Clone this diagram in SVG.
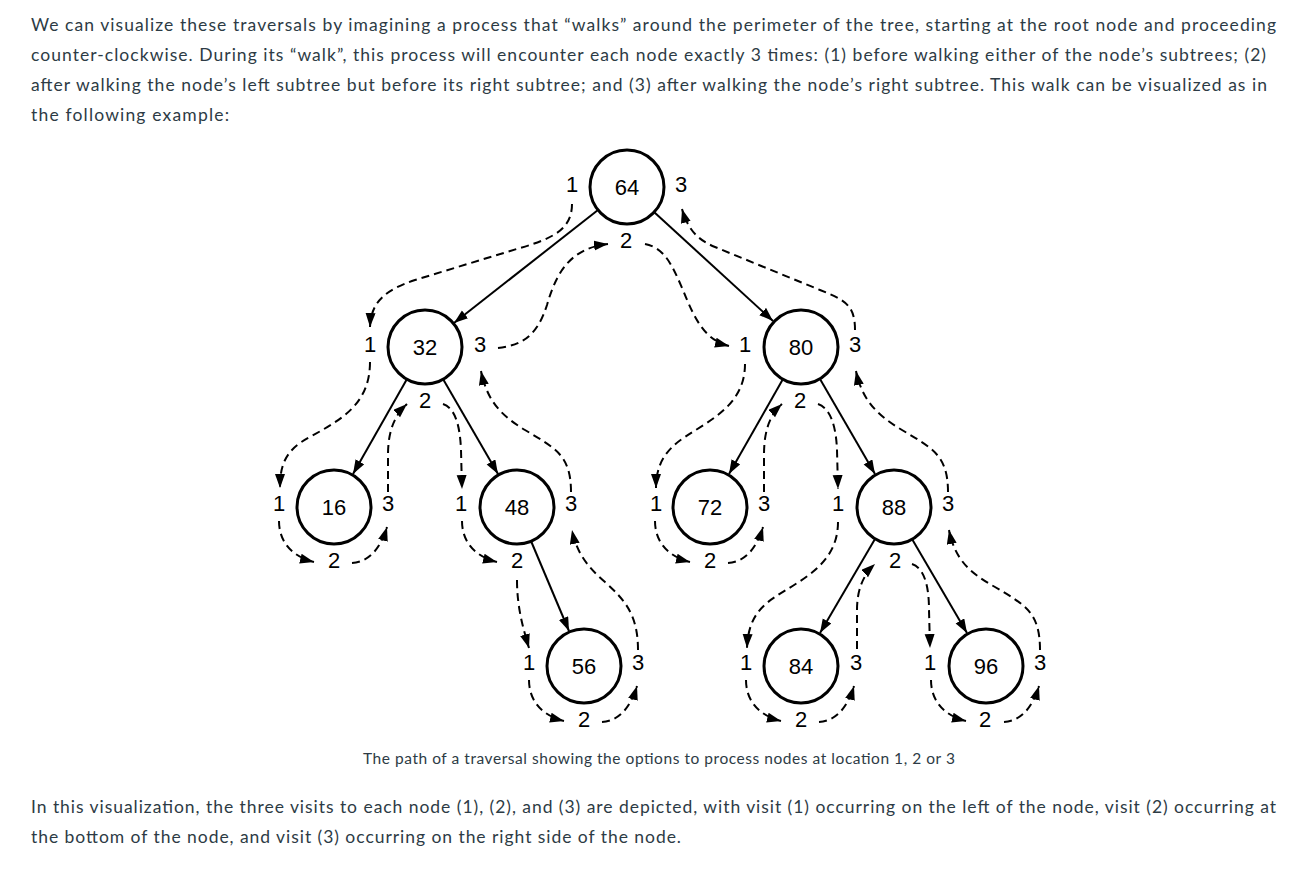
<svg xmlns="http://www.w3.org/2000/svg" width="1303" height="871" viewBox="0 0 1303 871">
<style>
.para{font-family:Lato,"Liberation Sans",sans-serif;font-size:17.5px;fill:#2d3b45}
.cap{font-family:Lato,"Liberation Sans",sans-serif;font-size:15.5px;fill:#2d3b45}
.node circle{fill:#fff;stroke:#000;stroke-width:3}
.node text{font-family:"Liberation Sans",Arial,sans-serif;font-size:22px;text-anchor:middle;fill:#000}
.lbl{font-family:"Liberation Sans",Arial,sans-serif;font-size:12px;text-anchor:middle;fill:#000}
.edge{fill:none;stroke:#000;stroke-width:2;marker-end:url(#ah)}
.walk{fill:none;stroke:#000;stroke-width:2;stroke-dasharray:8 5;marker-end:url(#ah)}
</style>
<defs>
<marker id="ah" markerUnits="userSpaceOnUse" markerWidth="15" markerHeight="11" refX="14" refY="5" orient="auto">
<path d="M0,0 L14,5 L0,10 z" fill="#000"/>
</marker>
</defs>
<rect width="1303" height="871" fill="#fff"/>
<g id="intro">
<text class="para" x="31" y="31" textLength="1245" lengthAdjust="spacing">We can visualize these traversals by imagining a process that “walks” around the perimeter of the tree, starting at the root node and proceeding</text>
<text class="para" x="31" y="61" textLength="1235" lengthAdjust="spacing">counter-clockwise. During its “walk”, this process will encounter each node exactly 3 times: (1) before walking either of the node’s subtrees; (2)</text>
<text class="para" x="31" y="91" textLength="1236" lengthAdjust="spacing">after walking the node’s left subtree but before its right subtree; and (3) after walking the node’s right subtree. This walk can be visualized as in</text>
<text class="para" x="31" y="121" textLength="198" lengthAdjust="spacing">the following example:</text>
</g>
<g id="connectors">
<path class="edge" d="M598,210 L454,323"/>
<path class="edge" d="M654,212 L773,321"/>
<path class="edge" d="M407,379 L353,474"/>
<path class="edge" d="M443,379 L498,474"/>
<path class="edge" d="M783,379 L729,474"/>
<path class="edge" d="M820,379 L875,474"/>
<path class="edge" d="M531,541 L569,631"/>
<path class="edge" d="M875,539 L820,633"/>
<path class="edge" d="M912,539 L967,633"/>
<path class="walk" d="M572,204 C572,228 555,238 520,248 L415,280 C385,290 371,302 370,327"/>
<path class="walk" d="M498,348 C525,345 538,333 547,305 C557,270 572,248 608,244"/>
<path class="walk" d="M645,244 C665,248 672,265 683,290 C695,320 705,340 729,346"/>
<path class="walk" d="M855,330 C855,305 845,300 820,290 L715,247 C698,240 688,230 682,209"/>
<path class="walk" d="M370,362 C370,405 340,420 310,437 C285,450 280,465 280,488"/>
<path class="walk" d="M279,521 C279,540 290,556 314,562"/>
<path class="walk" d="M352,563 C368,562 380,550 387,527"/>
<path class="walk" d="M388,492 L388,455 C388,430 395,415 407,404"/>
<path class="walk" d="M443,404 C455,408 460,425 461,450 L462,489"/>
<path class="walk" d="M462,521 C462,540 473,556 497,562"/>
<path class="walk" d="M571,492 C571,455 555,448 525,430 C500,415 487,400 481,371"/>
<path class="walk" d="M517,580 C517,605 522,625 529,648"/>
<path class="walk" d="M529,680 C529,699 540,715 564,721"/>
<path class="walk" d="M602,722 C618,721 630,709 637,686"/>
<path class="walk" d="M638,650 C638,615 625,600 605,582 C585,565 576,550 572,530"/>
<path class="walk" d="M745,364 C745,405 710,420 685,437 C665,450 656,465 656,488"/>
<path class="walk" d="M655,521 C655,540 666,556 690,562"/>
<path class="walk" d="M728,563 C744,562 756,550 763,527"/>
<path class="walk" d="M764,492 L764,455 C764,430 770,415 782,404"/>
<path class="walk" d="M818,404 C830,408 836,425 837,450 L838,489"/>
<path class="walk" d="M838,522 C838,565 800,580 775,597 C755,610 748,625 747,648"/>
<path class="walk" d="M746,680 C746,699 757,715 781,721"/>
<path class="walk" d="M819,722 C835,721 847,709 854,686"/>
<path class="walk" d="M857,649 L857,610 C857,590 863,575 875,564"/>
<path class="walk" d="M912,564 C924,568 929,585 929,610 L930,648"/>
<path class="walk" d="M931,680 C931,699 942,715 966,721"/>
<path class="walk" d="M1004,722 C1020,721 1032,709 1039,686"/>
<path class="walk" d="M1040,650 C1040,612 1025,605 995,587 C970,573 955,560 949,530"/>
<path class="walk" d="M948,492 C948,455 932,448 902,430 C877,415 862,400 856,371"/>
</g>
<g id="n64" class="node"><circle cx="627" cy="187" r="37"/><text x="627" y="195">64</text>
<text class="lbl" x="572" y="192">1</text><text class="lbl" x="626" y="248">2</text><text class="lbl" x="681" y="192">3</text></g>
<g id="n32" class="node"><circle cx="425" cy="347" r="37"/><text x="425" y="355">32</text>
<text class="lbl" x="370" y="352">1</text><text class="lbl" x="425" y="408">2</text><text class="lbl" x="480" y="352">3</text></g>
<g id="n80" class="node"><circle cx="801" cy="347" r="37"/><text x="801" y="355">80</text>
<text class="lbl" x="745" y="352">1</text><text class="lbl" x="800" y="408">2</text><text class="lbl" x="855" y="352">3</text></g>
<g id="n16" class="node"><circle cx="334" cy="507" r="37"/><text x="334" y="515">16</text>
<text class="lbl" x="279" y="511">1</text><text class="lbl" x="334" y="568">2</text><text class="lbl" x="388" y="511">3</text></g>
<g id="n48" class="node"><circle cx="517" cy="507" r="37"/><text x="517" y="515">48</text>
<text class="lbl" x="461" y="511">1</text><text class="lbl" x="517" y="568">2</text><text class="lbl" x="571" y="511">3</text></g>
<g id="n72" class="node"><circle cx="710" cy="507" r="37"/><text x="710" y="515">72</text>
<text class="lbl" x="656" y="511">1</text><text class="lbl" x="710" y="568">2</text><text class="lbl" x="764" y="511">3</text></g>
<g id="n88" class="node"><circle cx="894" cy="507" r="37"/><text x="894" y="515">88</text>
<text class="lbl" x="838" y="511">1</text><text class="lbl" x="895" y="568">2</text><text class="lbl" x="948" y="511">3</text></g>
<g id="n56" class="node"><circle cx="584" cy="666" r="37"/><text x="584" y="674">56</text>
<text class="lbl" x="529" y="670">1</text><text class="lbl" x="584" y="727">2</text><text class="lbl" x="638" y="670">3</text></g>
<g id="n84" class="node"><circle cx="801" cy="666" r="37"/><text x="801" y="674">84</text>
<text class="lbl" x="746" y="670">1</text><text class="lbl" x="801" y="727">2</text><text class="lbl" x="856" y="670">3</text></g>
<g id="n96" class="node"><circle cx="986" cy="666" r="37"/><text x="986" y="674">96</text>
<text class="lbl" x="930" y="670">1</text><text class="lbl" x="985" y="727">2</text><text class="lbl" x="1040" y="670">3</text></g>
<g id="caption">
<text class="cap" x="363" y="764" textLength="592" lengthAdjust="spacing">The path of a traversal showing the options to process nodes at location 1, 2 or 3</text>
</g>
<g id="outro">
<text class="para" x="31" y="813" textLength="1245" lengthAdjust="spacing">In this visualization, the three visits to each node (1), (2), and (3) are depicted, with visit (1) occurring on the left of the node, visit (2) occurring at</text>
<text class="para" x="31" y="843" textLength="650" lengthAdjust="spacing">the bottom of the node, and visit (3) occurring on the right side of the node.</text>
</g>
</svg>
